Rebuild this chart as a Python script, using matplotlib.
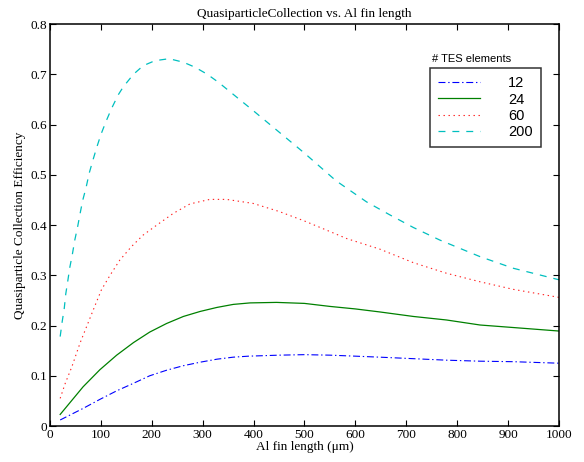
import numpy as np
import matplotlib
matplotlib.use('Agg')
import matplotlib.pyplot as plt

plt.rcParams['font.family'] = 'Liberation Serif'
plt.rcParams['lines.scale_dashes'] = False

########### data ###########

x12 = [20, 65, 98, 131, 164, 196, 229, 262, 295, 328, 360, 390, 450, 500,
       550, 600, 648, 714, 779, 845, 910, 1000]
y12 = [0.012, 0.035, 0.053, 0.070, 0.085, 0.100, 0.111, 0.120, 0.127, 0.133,
       0.137, 0.139, 0.141, 0.142, 0.141, 0.139, 0.137, 0.134, 0.131, 0.129,
       0.128, 0.125]

x24 = [20, 65, 98, 131, 164, 196, 229, 262, 295, 328, 360, 393, 445, 500,
       550, 600, 648, 714, 779, 845, 910, 1000]
y24 = [0.023, 0.078, 0.112, 0.141, 0.166, 0.187, 0.204, 0.218, 0.228, 0.236,
       0.242, 0.245, 0.246, 0.244, 0.238, 0.233, 0.227, 0.218, 0.211, 0.201,
       0.196, 0.189]

x60 = [20, 30, 43, 59, 72, 85, 101, 118, 137, 160, 183, 210, 242, 275, 314,
       347, 399, 450, 500, 550, 583, 648, 714, 779, 845, 910, 1000]
y60 = [0.055, 0.085, 0.118, 0.165, 0.198, 0.231, 0.271, 0.300, 0.330, 0.357,
       0.380, 0.400, 0.423, 0.442, 0.451, 0.451, 0.443, 0.427, 0.408, 0.387,
       0.373, 0.352, 0.325, 0.304, 0.287, 0.272, 0.256]

x200 = [20, 24, 28, 31, 35, 39, 44, 48.5, 54, 59, 64, 71, 77, 84, 92, 100, 110,
        121, 134, 144, 164, 183, 206, 234, 262, 285, 309, 331, 354, 400, 450,
        500, 562, 622, 668, 714, 766, 845, 910, 1000]
y200 = [0.178, 0.208, 0.234, 0.263, 0.289, 0.316, 0.342, 0.369, 0.395, 0.422,
        0.448, 0.475, 0.503, 0.528, 0.555, 0.580, 0.606, 0.632, 0.659, 0.675,
        0.700, 0.717, 0.727, 0.731, 0.724, 0.714, 0.700, 0.684, 0.665, 0.627,
        0.585, 0.543, 0.488, 0.446, 0.420, 0.395, 0.370, 0.337, 0.314, 0.291]

labels = ['12', '24', '60', '200']
xticks = np.arange(0, 1001, 100)
yticks = [0, 0.1, 0.2, 0.3, 0.4, 0.5, 0.6, 0.7, 0.8]
ytick_labels = ['0', '0.1', '0.2', '0.3', '0.4', '0.5', '0.6', '0.7', '0.8']

########### plot ###########

fig = plt.figure(figsize=(5.84, 4.62), dpi=100)
ax = fig.add_axes([0.0856, 0.0779, 0.8716, 0.8701])

ax.plot(x12, y12, color='#0000ff', lw=0.8, ls=(0, (5, 2, 1, 2)), label=labels[0])
ax.plot(x24, y24, color='#008000', lw=0.9, ls='-', label=labels[1])
ax.plot(x60, y60, color='#ff2020', lw=0.8, ls=(0, (1, 2.6)), label=labels[2])
ax.plot(x200, y200, color='#00bfbf', lw=0.9, ls=(0, (5, 5)), label=labels[3])

ax.set_xlim(0, 1000)
ax.set_ylim(0, 0.8)
ax.set_xticks(xticks)
ax.set_yticks(yticks)
ax.set_yticklabels(ytick_labels)
ax.tick_params(direction='in', top=True, right=True, length=4, width=0.8,
               labelsize=9.5, pad=2)
for s in ax.spines.values():
    s.set_linewidth(1.1)

ax.set_title('QuasiparticleCollection vs. Al fin length', fontsize=9.5, pad=5)
ax.set_xlabel('Al fin length (\u03bcm)', fontsize=9.5, labelpad=0)
ax.set_ylabel('Quasiparticle Collection Efficiency', fontsize=9.5, labelpad=3)

leg = ax.legend(loc='upper left', bbox_to_anchor=(0.7466, 0.890),
                borderaxespad=0, frameon=True, fancybox=False,
                prop={'family': 'Liberation Sans', 'size': 10.5},
                handlelength=2.9, handletextpad=1.9, labelspacing=0.16,
                borderpad=0.55)
leg.get_frame().set_edgecolor('black')
leg.get_frame().set_linewidth(1.1)
ax.text(0.7500, 0.913, '# TES elements', transform=ax.transAxes,
        family='Liberation Sans', fontsize=8, va='center')

plt.savefig('out.png', dpi=100)
